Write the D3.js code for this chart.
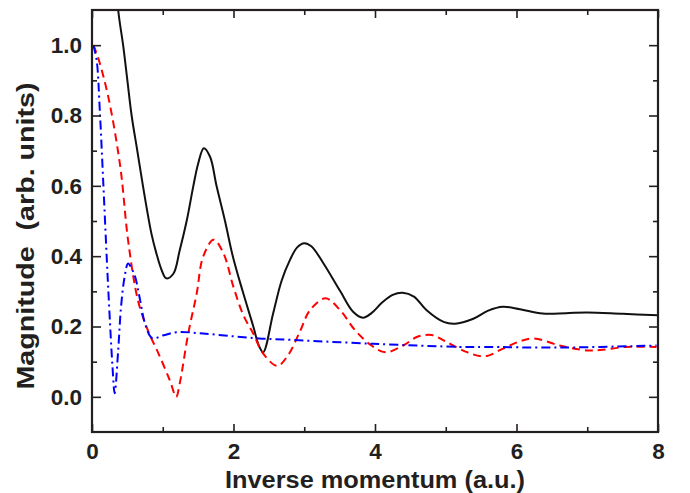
<!DOCTYPE html>
<html>
<head>
<meta charset="utf-8">
<script src="https://cdn.jsdelivr.net/npm/d3@7/dist/d3.min.js"></script>
<style>
  html, body { margin: 0; padding: 0; background: #fff; }
  svg { display: block; }
  text { font-family: "Liberation Sans", Arial, Helvetica, sans-serif; font-weight: bold; fill: #231f20; }
</style>
</head>
<body>
<svg id="chart" width="690" height="493"></svg>
<script>
// ---- data ----
const xMajorTicks = [0, 2, 4, 6, 8];
const xMinorTicks = [1, 3, 5, 7];
const yMajorTicks = [0.0, 0.2, 0.4, 0.6, 0.8, 1.0];
const yMinorTicks = [0.1, 0.3, 0.5, 0.7, 0.9];
const xLabel = "Inverse momentum (a.u.)";
const yLabel = "Magnitude  (arb. units)";

// black solid curve
const blackX = [0.32, 0.37, 0.44, 0.50, 0.56, 0.64, 0.72, 0.84, 0.91, 0.985, 1.05, 1.15, 1.24, 1.34, 1.43, 1.50, 1.58, 1.67, 1.76, 1.88, 1.99, 2.13, 2.28, 2.36, 2.42, 2.56, 2.68, 2.80, 2.90, 3.00, 3.10, 3.27, 3.51, 3.69, 3.83, 3.95, 4.10, 4.25, 4.39, 4.55, 4.73, 4.97, 5.13, 5.39, 5.60, 5.81, 6.05, 6.37, 6.70, 7.00, 7.50, 8.00];
const blackY = [1.25, 1.10, 1.00, 0.90, 0.80, 0.70, 0.60, 0.464, 0.408, 0.36, 0.337, 0.35, 0.417, 0.502, 0.597, 0.663, 0.707, 0.682, 0.60, 0.50, 0.40, 0.30, 0.20, 0.145, 0.127, 0.237, 0.33, 0.39, 0.425, 0.437, 0.428, 0.38, 0.30, 0.242, 0.225, 0.238, 0.268, 0.29, 0.296, 0.285, 0.246, 0.213, 0.208, 0.222, 0.245, 0.256, 0.249, 0.237, 0.238, 0.240, 0.236, 0.232];

// red dashed curve
const redX = [0.02, 0.09, 0.23, 0.40, 0.51, 0.65, 0.79, 0.94, 1.10, 1.19, 1.24, 1.36, 1.48, 1.57, 1.72, 1.86, 2.00, 2.14, 2.28, 2.42, 2.62, 2.77, 2.94, 3.08, 3.30, 3.51, 3.72, 3.95, 4.15, 4.40, 4.59, 4.80, 5.01, 5.30, 5.55, 5.81, 6.05, 6.25, 6.61, 6.99, 7.18, 7.55, 7.98];
const redY = [1.00, 0.962, 0.853, 0.654, 0.445, 0.274, 0.189, 0.123, 0.047, 0.0, 0.038, 0.18, 0.294, 0.398, 0.447, 0.407, 0.312, 0.232, 0.18, 0.123, 0.088, 0.118, 0.186, 0.246, 0.28, 0.246, 0.189, 0.146, 0.127, 0.146, 0.170, 0.176, 0.156, 0.127, 0.115, 0.137, 0.158, 0.166, 0.146, 0.132, 0.133, 0.142, 0.142];

// blue dash-dot curve
const blueX = [0.02, 0.066, 0.11, 0.16, 0.21, 0.25, 0.29, 0.32, 0.37, 0.41, 0.46, 0.51, 0.56, 0.61, 0.68, 0.75, 0.85, 1.01, 1.20, 1.57, 2.00, 2.36, 2.70, 3.97, 5.20, 5.53, 6.61, 7.98];
const blueY = [1.00, 0.957, 0.815, 0.606, 0.388, 0.227, 0.085, 0.01, 0.132, 0.255, 0.34, 0.379, 0.365, 0.341, 0.275, 0.208, 0.167, 0.175, 0.184, 0.18, 0.172, 0.166, 0.163, 0.151, 0.142, 0.142, 0.140, 0.146];

// ---- layout ----
const mL = 92, mR = 658, mT = 10, mB = 432;
const svg = d3.select("#chart");
const x = d3.scaleLinear().domain([0, 8]).range([mL, mR]);
const y = d3.scaleLinear().domain([-0.1, 1.1]).range([mB, mT]);
const axisColor = "#231f20";

svg.append("defs").append("clipPath").attr("id", "clip")
  .append("rect").attr("x", mL).attr("y", mT)
  .attr("width", mR - mL).attr("height", mB - mT);

const plot = svg.append("g").attr("clip-path", "url(#clip)");

function series(xs, ys) { return xs.map((v, i) => [v, ys[i]]); }
const line = d3.line().x(d => x(d[0])).y(d => y(d[1])).curve(d3.curveCatmullRom.alpha(0.5));

plot.append("path").datum(series(blackX, blackY))
  .attr("d", line).attr("fill", "none").attr("stroke", "#111")
  .attr("stroke-width", 2);
plot.append("path").datum(series(redX, redY))
  .attr("d", line).attr("fill", "none").attr("stroke", "#ff0000")
  .attr("stroke-width", 2).attr("stroke-dasharray", "8,5");
plot.append("path").datum(series(blueX, blueY))
  .attr("d", line).attr("fill", "none").attr("stroke", "#0000ff")
  .attr("stroke-width", 2).attr("stroke-dasharray", "9,4,2,4");

// ---- axes (ticks inward, mirrored) ----
function styleAxis(g) {
  g.select(".domain").remove();
  g.selectAll(".tick line").attr("stroke", axisColor).attr("stroke-width", 1.6);
}
const gB = svg.append("g").attr("transform", `translate(0,${mB})`)
  .call(d3.axisBottom(x).tickValues(xMajorTicks).tickSizeInner(-8).tickSizeOuter(0).tickPadding(11.5).tickFormat(d3.format("d")));
styleAxis(gB);
gB.selectAll(".tick text").attr("font-size", 22.5).attr("fill", axisColor);
svg.append("g").attr("transform", `translate(0,${mB})`)
  .call(d3.axisBottom(x).tickValues(xMinorTicks).tickSizeInner(-5).tickSizeOuter(0).tickFormat(""))
  .call(styleAxis);
svg.append("g").attr("transform", `translate(0,${mT})`)
  .call(d3.axisTop(x).tickValues(xMajorTicks).tickSizeInner(-8).tickSizeOuter(0).tickFormat(""))
  .call(styleAxis);
svg.append("g").attr("transform", `translate(0,${mT})`)
  .call(d3.axisTop(x).tickValues(xMinorTicks).tickSizeInner(-5).tickSizeOuter(0).tickFormat(""))
  .call(styleAxis);
const gL = svg.append("g").attr("transform", `translate(${mL},0)`)
  .call(d3.axisLeft(y).tickValues(yMajorTicks).tickSizeInner(-9).tickSizeOuter(0).tickPadding(10).tickFormat(d3.format(".1f")));
styleAxis(gL);
gL.selectAll(".tick text").attr("font-size", 22.5).attr("fill", axisColor);
svg.append("g").attr("transform", `translate(${mL},0)`)
  .call(d3.axisLeft(y).tickValues(yMinorTicks).tickSizeInner(-5).tickSizeOuter(0).tickFormat(""))
  .call(styleAxis);
svg.append("g").attr("transform", `translate(${mR},0)`)
  .call(d3.axisRight(y).tickValues(yMajorTicks).tickSizeInner(-9).tickSizeOuter(0).tickFormat(""))
  .call(styleAxis);
svg.append("g").attr("transform", `translate(${mR},0)`)
  .call(d3.axisRight(y).tickValues(yMinorTicks).tickSizeInner(-5).tickSizeOuter(0).tickFormat(""))
  .call(styleAxis);

svg.append("rect").attr("x", mL).attr("y", mT)
  .attr("width", mR - mL).attr("height", mB - mT)
  .attr("fill", "none").attr("stroke", axisColor).attr("stroke-width", 2.2);

// ---- titles ----
svg.append("text").attr("x", (mL + mR) / 2).attr("y", 488)
  .attr("text-anchor", "middle").attr("font-size", 23)
  .attr("textLength", 300).attr("lengthAdjust", "spacingAndGlyphs")
  .text(xLabel);
svg.append("text").attr("transform", "translate(34,236) rotate(-90)")
  .attr("text-anchor", "middle").attr("font-size", 23)
  .attr("textLength", 307).attr("lengthAdjust", "spacingAndGlyphs")
  .style("white-space", "pre")
  .text(yLabel);
</script>
</body>
</html>
